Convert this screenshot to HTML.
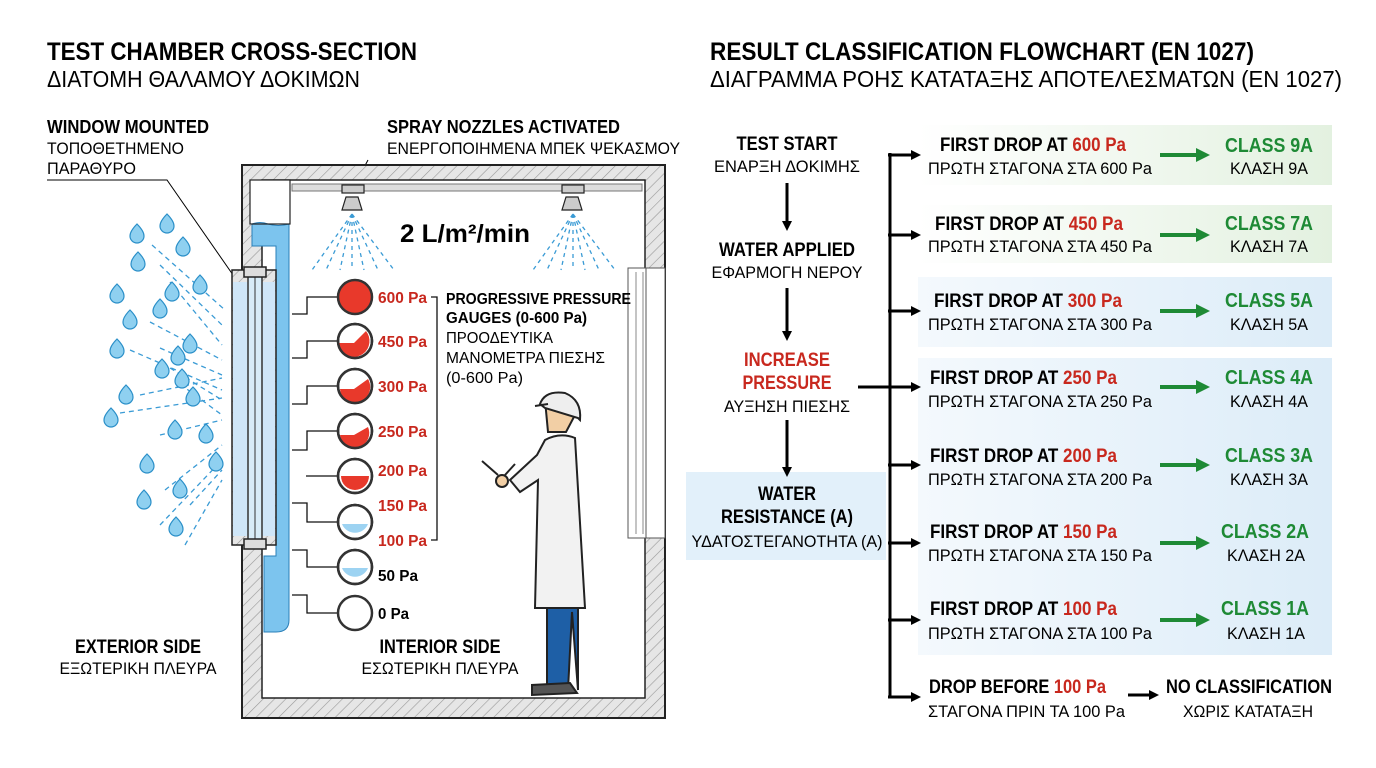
<!DOCTYPE html>
<html><head><meta charset="utf-8"><style>
html,body{margin:0;padding:0;background:#fff;}
svg{display:block;font-family:"Liberation Sans","Noto Sans CJK SC",sans-serif;}
.b{font-weight:bold;}
</style></head><body>
<svg width="1376" height="768" viewBox="0 0 1376 768" xmlns="http://www.w3.org/2000/svg">
<defs>
<pattern id="h" width="8" height="8" patternUnits="userSpaceOnUse" patternTransform="rotate(45)">
<rect width="8" height="8" fill="#e6e6e6"/><line x1="0" y1="0" x2="0" y2="8" stroke="#999" stroke-width="1.2"/></pattern>
<linearGradient id="gg" x1="0" x2="1"><stop offset="0" stop-color="#fff"/><stop offset="1" stop-color="#e3f1e0"/></linearGradient>
<linearGradient id="bg" x1="0" x2="1"><stop offset="0" stop-color="#f4f9fd"/><stop offset="1" stop-color="#dcecf8"/></linearGradient>
<marker id="ak" markerWidth="10" markerHeight="10" refX="7" refY="5" orient="auto" markerUnits="userSpaceOnUse"><path d="M0,0 L10,5 L0,10 Z" fill="#000"/></marker>
<marker id="ag" markerWidth="14" markerHeight="14" refX="10" refY="7" orient="auto" markerUnits="userSpaceOnUse"><path d="M0,0 L14,7 L0,14 Z" fill="#1e8a35"/></marker>
<g id="drop"><path d="M0,-8 C6,-2 7,2 7,4 A7,7 0 0 1 -7,4 C-7,2 -6,-2 0,-8Z" fill="#8fd0f0" stroke="#2a8fc8" stroke-width="1.2"/></g>
</defs>

<!-- Titles -->
<text x="47" y="60" class="b" font-size="25" textLength="370" lengthAdjust="spacingAndGlyphs">TEST CHAMBER CROSS-SECTION</text>
<text x="47" y="87" font-size="23" textLength="313" lengthAdjust="spacingAndGlyphs">ΔΙΑΤΟΜΗ ΘΑΛΑΜΟΥ ΔΟΚΙΜΩΝ</text>
<text x="710" y="60" class="b" font-size="25" textLength="544" lengthAdjust="spacingAndGlyphs">RESULT CLASSIFICATION FLOWCHART (EN 1027)</text>
<text x="710" y="87" font-size="23" textLength="632" lengthAdjust="spacingAndGlyphs">ΔΙΑΓΡΑΜΜΑ ΡΟΗΣ ΚΑΤΑΤΑΞΗΣ ΑΠΟΤΕΛΕΣΜΑΤΩΝ (EN 1027)</text>

<!-- Left labels -->
<text x="47" y="133" class="b" font-size="18" textLength="162" lengthAdjust="spacingAndGlyphs">WINDOW MOUNTED</text>
<text x="47" y="154" font-size="17" textLength="137" lengthAdjust="spacingAndGlyphs">ΤΟΠΟΘΕΤΗΜΕΝΟ</text>
<text x="47" y="174" font-size="17" textLength="89" lengthAdjust="spacingAndGlyphs">ΠΑΡΑΘΥΡΟ</text>
<polyline points="47,180 167,180 240,285" fill="none" stroke="#000" stroke-width="1"/>
<text x="138" y="653" class="b" font-size="19" text-anchor="middle" textLength="126" lengthAdjust="spacingAndGlyphs">EXTERIOR SIDE</text>
<text x="138" y="674" font-size="17" text-anchor="middle" textLength="157" lengthAdjust="spacingAndGlyphs">ΕΞΩΤΕΡΙΚΗ ΠΛΕΥΡΑ</text>
<text x="387" y="133" class="b" font-size="18" textLength="233" lengthAdjust="spacingAndGlyphs">SPRAY NOZZLES ACTIVATED</text>
<text x="387" y="154" font-size="17" textLength="293" lengthAdjust="spacingAndGlyphs">ΕΝΕΡΓΟΠΟΙΗΜΕΝΑ ΜΠΕΚ ΨΕΚΑΣΜΟΥ</text>
<line x1="368" y1="160" x2="352" y2="190" stroke="#000" stroke-width="1"/>

<!-- Chamber -->
<rect x="242" y="165" width="423" height="553" fill="url(#h)" stroke="#222" stroke-width="2"/>
<rect x="262" y="180" width="383" height="518" fill="#fff" stroke="#222" stroke-width="1.5"/>
<rect x="250" y="180" width="40" height="45" fill="#fff"/>
<path d="M252,224 Q260,221 268,224 Q278,227 289,224 L289,620 Q289,632 276,632 L264,632 L264,556 L276,556 L276,246 L252,246 Z" fill="#7cc4ee" stroke="#2a7fb8" stroke-width="1"/>
<rect x="250" y="180" width="40" height="44" fill="none" stroke="#222" stroke-width="1.2"/>
<rect x="232" y="270" width="44" height="275" fill="url(#h)" stroke="#222" stroke-width="1.5"/>
<rect x="233" y="282" width="42" height="254" fill="#cfe6f8"/>
<rect x="248" y="272" width="14" height="270" fill="#d8ecf8" stroke="#333" stroke-width="1.5"/>
<line x1="255" y1="275" x2="255" y2="540" stroke="#333" stroke-width="1"/>
<rect x="244" y="267" width="22" height="10" fill="#ddd" stroke="#222" stroke-width="1.5"/>
<rect x="244" y="539" width="22" height="10" fill="#ddd" stroke="#222" stroke-width="1.5"/>
<rect x="628" y="268" width="20" height="270" fill="#fff" stroke="#555" stroke-width="1"/>
<line x1="636" y1="272" x2="636" y2="534" stroke="#888" stroke-width="1"/>
<line x1="643" y1="272" x2="643" y2="534" stroke="#888" stroke-width="1"/>
<rect x="646" y="268" width="19" height="270" fill="#fff" stroke="#555" stroke-width="1"/>

<!-- spray bar -->
<rect x="292" y="184" width="350" height="7" fill="#ddd" stroke="#777" stroke-width="1"/>
<g fill="#ccc" stroke="#222" stroke-width="1.2">
<rect x="342" y="185" width="22" height="8"/><path d="M346,197 L358,197 L362,210 L342,210 Z"/>
<rect x="562" y="185" width="22" height="8"/><path d="M566,197 L578,197 L582,210 L562,210 Z"/>
</g>
<g stroke="#3a9bd5" stroke-width="1.3" stroke-dasharray="4,4" fill="none">
<path d="M352,214 L312,270 M352,214 L326,270 M352,214 L340,270 M352,214 L352,270 M352,214 L364,270 M352,214 L378,270 M352,214 L394,270"/>
<path d="M573,214 L533,270 M573,214 L547,270 M573,214 L561,270 M573,214 L573,270 M573,214 L585,270 M573,214 L599,270 M573,214 L615,270"/>
</g>
<text x="400" y="242" class="b" font-size="25" textLength="130" lengthAdjust="spacingAndGlyphs">2 L/m²/min</text>

<!-- gauges -->
<g stroke="#111" stroke-width="1.3" fill="none">
<path d="M292,314 L307,314 L307,297 L338,297"/>
<path d="M292,358 L307,358 L307,341 L338,341"/>
<path d="M292,404 L307,404 L307,386 L338,386"/>
<path d="M292,450 L307,450 L307,431 L338,431"/>
<path d="M306,476 L338,476"/>
<path d="M292,503 L307,503 L307,522 L338,522"/>
<path d="M292,550 L307,550 L307,567 L338,567"/>
<path d="M292,595 L307,595 L307,613 L338,613"/>
<path d="M431,297 L437,297 L437,540 L431,540"/>
</g>
<g stroke="#333" stroke-width="2.5">
<circle cx="355" cy="297" r="17" fill="#e8392b"/>
<circle cx="355" cy="341" r="17" fill="#fff"/><path d="M339,343 L354,343 L366,331 A14,14 0 0 1 341,351 Z" fill="#e8392b" stroke="none"/>
<circle cx="355" cy="386" r="17" fill="#fff"/><path d="M340,389 L354,389 L368,379 A14,14 0 0 1 341,395 Z" fill="#e8392b" stroke="none"/>
<circle cx="355" cy="431" r="17" fill="#fff"/><path d="M340,435 L354,435 L368,427 A14,14 0 0 1 341,439 Z" fill="#e8392b" stroke="none"/>
<circle cx="355" cy="476" r="17" fill="#fff"/><path d="M341,476 L369,476 A14,14 0 0 1 341,476 Z" fill="#e8392b" stroke="none"/>
<circle cx="355" cy="522" r="17" fill="#fff"/><path d="M342,524 L368,524 A14,14 0 0 1 342,524 Z" fill="#9dd3f2" stroke="none"/>
<circle cx="355" cy="567" r="17" fill="#fff"/><path d="M342,568 L368,568 A14,14 0 0 1 342,568 Z" fill="#9dd3f2" stroke="none"/>
<circle cx="355" cy="613" r="17" fill="#fff"/>
</g>
<g fill="none" stroke="#333" stroke-width="2.5">
<circle cx="355" cy="341" r="17"/><circle cx="355" cy="386" r="17"/><circle cx="355" cy="431" r="17"/><circle cx="355" cy="476" r="17"/><circle cx="355" cy="522" r="17"/><circle cx="355" cy="567" r="17"/>
</g>
<g class="b" font-size="16" fill="#c8281e">
<text x="378" y="303" textLength="49" lengthAdjust="spacingAndGlyphs">600 Pa</text><text x="378" y="347" textLength="49" lengthAdjust="spacingAndGlyphs">450 Pa</text><text x="378" y="392" textLength="49" lengthAdjust="spacingAndGlyphs">300 Pa</text><text x="378" y="437" textLength="49" lengthAdjust="spacingAndGlyphs">250 Pa</text><text x="378" y="476" textLength="49" lengthAdjust="spacingAndGlyphs">200 Pa</text><text x="378" y="511" textLength="49" lengthAdjust="spacingAndGlyphs">150 Pa</text><text x="378" y="546" textLength="49" lengthAdjust="spacingAndGlyphs">100 Pa</text>
</g>
<text x="378" y="581" class="b" font-size="16" textLength="40" lengthAdjust="spacingAndGlyphs">50 Pa</text>
<text x="378" y="619" class="b" font-size="16" textLength="31" lengthAdjust="spacingAndGlyphs">0 Pa</text>
<text x="446" y="304" class="b" font-size="16" textLength="185" lengthAdjust="spacingAndGlyphs">PROGRESSIVE PRESSURE</text>
<text x="446" y="323" class="b" font-size="16" textLength="141" lengthAdjust="spacingAndGlyphs">GAUGES (0-600 Pa)</text>
<text x="446" y="343" font-size="16" textLength="107" lengthAdjust="spacingAndGlyphs">ΠΡΟΟΔΕΥΤΙΚΑ</text>
<text x="446" y="363" font-size="16" textLength="159" lengthAdjust="spacingAndGlyphs">ΜΑΝΟΜΕΤΡΑ ΠΙΕΣΗΣ</text>
<text x="446" y="383" font-size="16" textLength="77" lengthAdjust="spacingAndGlyphs">(0-600 Pa)</text>

<!-- person -->
<g stroke="#222" stroke-width="2">
<path d="M547,607 L547,690 L568,690 L572,612 L578,690 L578,607 Z" fill="#1e5fa6"/>
<path d="M532,695 L532,685 L570,683 L577,693 Z" fill="#555"/>
<path d="M545,440 Q560,432 575,438 L585,608 L535,608 L538,480 L520,492 L510,480 L537,455 Z" fill="#f2f2f2"/>
<path d="M545,400 L548,432 L566,432 L575,415 L568,400 Z" fill="#f2cfa5"/>
<path d="M540,404 Q545,390 565,393 Q582,400 580,420 L578,418 L545,408 Z" fill="#eee"/>
<path d="M535,406 L548,404" />
<line x1="482" y1="461" x2="498" y2="475"/>
<line x1="505" y1="475" x2="515" y2="464"/>
<circle cx="502" cy="481" r="6" fill="#f2cfa5"/>
</g>
<text x="440" y="653" class="b" font-size="19" text-anchor="middle" textLength="121" lengthAdjust="spacingAndGlyphs">INTERIOR SIDE</text>
<text x="440" y="674" font-size="17" text-anchor="middle" textLength="157" lengthAdjust="spacingAndGlyphs">ΕΣΩΤΕΡΙΚΗ ΠΛΕΥΡΑ</text>

<!-- exterior spray -->
<g stroke="#3a9bd5" stroke-width="1.3" stroke-dasharray="5,4" fill="none">
<line x1="152" y1="245" x2="225" y2="310"/><line x1="160" y1="265" x2="222" y2="325"/>
<line x1="170" y1="282" x2="222" y2="345"/><line x1="150" y1="322" x2="222" y2="360"/>
<line x1="160" y1="348" x2="222" y2="375"/><line x1="130" y1="350" x2="222" y2="390"/>
<line x1="170" y1="368" x2="222" y2="400"/><line x1="180" y1="384" x2="222" y2="415"/>
<line x1="140" y1="395" x2="222" y2="378"/><line x1="120" y1="413" x2="222" y2="398"/>
<line x1="160" y1="435" x2="222" y2="420"/><line x1="165" y1="490" x2="222" y2="445"/>
<line x1="160" y1="525" x2="222" y2="460"/><line x1="185" y1="545" x2="222" y2="480"/>
<line x1="190" y1="505" x2="222" y2="470"/>
</g>
<g>
<use href="#drop" x="167" y="222"/><use href="#drop" x="137" y="232"/><use href="#drop" x="183" y="245"/>
<use href="#drop" x="138" y="260"/><use href="#drop" x="200" y="283"/><use href="#drop" x="172" y="290"/>
<use href="#drop" x="117" y="292"/><use href="#drop" x="160" y="307"/><use href="#drop" x="130" y="318"/>
<use href="#drop" x="190" y="342"/><use href="#drop" x="117" y="347"/><use href="#drop" x="178" y="354"/>
<use href="#drop" x="162" y="367"/><use href="#drop" x="182" y="377"/><use href="#drop" x="126" y="393"/>
<use href="#drop" x="193" y="395"/><use href="#drop" x="111" y="416"/><use href="#drop" x="175" y="428"/>
<use href="#drop" x="206" y="432"/><use href="#drop" x="147" y="462"/><use href="#drop" x="216" y="460"/>
<use href="#drop" x="180" y="487"/><use href="#drop" x="144" y="498"/><use href="#drop" x="176" y="525"/>
</g>

<!-- Flowchart backgrounds -->
<rect x="918" y="125" width="414" height="60" fill="url(#gg)"/>
<rect x="918" y="205" width="414" height="58" fill="url(#gg)"/>
<rect x="918" y="277" width="414" height="70" fill="url(#bg)"/>
<rect x="918" y="358" width="414" height="297" fill="url(#bg)"/>
<rect x="686" y="472" width="200" height="88" fill="#e2f0fa"/>

<g text-anchor="middle">
<text x="787" y="150" class="b" font-size="19" textLength="101" lengthAdjust="spacingAndGlyphs">TEST START</text>
<text x="787" y="172" font-size="17" textLength="146" lengthAdjust="spacingAndGlyphs">ΕΝΑΡΞΗ ΔΟΚΙΜΗΣ</text>
<text x="787" y="256" class="b" font-size="19" textLength="136" lengthAdjust="spacingAndGlyphs">WATER APPLIED</text>
<text x="787" y="278" font-size="17" textLength="151" lengthAdjust="spacingAndGlyphs">ΕΦΑΡΜΟΓΗ ΝΕΡΟΥ</text>
<text x="787" y="366" class="b" font-size="19" fill="#c8281e" textLength="86" lengthAdjust="spacingAndGlyphs">INCREASE</text>
<text x="787" y="389" class="b" font-size="19" fill="#c8281e" textLength="89" lengthAdjust="spacingAndGlyphs">PRESSURE</text>
<text x="787" y="412" font-size="17" textLength="126" lengthAdjust="spacingAndGlyphs">ΑΥΞΗΣΗ ΠΙΕΣΗΣ</text>
<text x="787" y="500" class="b" font-size="19" textLength="58" lengthAdjust="spacingAndGlyphs">WATER</text>
<text x="787" y="523" class="b" font-size="19" textLength="132" lengthAdjust="spacingAndGlyphs">RESISTANCE (A)</text>
<text x="787" y="547" font-size="17" textLength="191" lengthAdjust="spacingAndGlyphs">ΥΔΑΤΟΣΤΕΓΑΝΟΤΗΤΑ (A)</text>
</g>
<g stroke="#000" stroke-width="3" fill="none">
<line x1="787" y1="183" x2="787" y2="228" marker-end="url(#ak)"/>
<line x1="787" y1="288" x2="787" y2="338" marker-end="url(#ak)"/>
<line x1="787" y1="420" x2="787" y2="474" marker-end="url(#ak)"/>
<line x1="858" y1="387" x2="890" y2="387"/>
<line x1="890" y1="153" x2="890" y2="697"/>
<line x1="888" y1="155" x2="918" y2="155" marker-end="url(#ak)"/>
<line x1="888" y1="235" x2="918" y2="235" marker-end="url(#ak)"/>
<line x1="888" y1="311" x2="918" y2="311" marker-end="url(#ak)"/>
<line x1="890" y1="387" x2="918" y2="387" marker-end="url(#ak)"/>
<line x1="888" y1="465" x2="918" y2="465" marker-end="url(#ak)"/>
<line x1="888" y1="543" x2="918" y2="543" marker-end="url(#ak)"/>
<line x1="888" y1="620" x2="918" y2="620" marker-end="url(#ak)"/>
<line x1="888" y1="697" x2="918" y2="697" marker-end="url(#ak)"/>
<line x1="1128" y1="695" x2="1156" y2="695" marker-end="url(#ak)"/>
</g>
<g stroke="#1e8a35" stroke-width="4">
<line x1="1160" y1="155" x2="1206" y2="155" marker-end="url(#ag)"/>
<line x1="1160" y1="235" x2="1206" y2="235" marker-end="url(#ag)"/>
<line x1="1160" y1="311" x2="1206" y2="311" marker-end="url(#ag)"/>
<line x1="1160" y1="387" x2="1206" y2="387" marker-end="url(#ag)"/>
<line x1="1160" y1="465" x2="1206" y2="465" marker-end="url(#ag)"/>
<line x1="1160" y1="543" x2="1206" y2="543" marker-end="url(#ag)"/>
<line x1="1160" y1="620" x2="1206" y2="620" marker-end="url(#ag)"/>
</g>

<g font-size="19" class="b">
<text x="940" y="151" textLength="186" lengthAdjust="spacingAndGlyphs">FIRST DROP AT <tspan fill="#c8281e">600 Pa</tspan></text>
<text x="935" y="230" textLength="188" lengthAdjust="spacingAndGlyphs">FIRST DROP AT <tspan fill="#c8281e">450 Pa</tspan></text>
<text x="934" y="307" textLength="188" lengthAdjust="spacingAndGlyphs">FIRST DROP AT <tspan fill="#c8281e">300 Pa</tspan></text>
<text x="930" y="384" textLength="187" lengthAdjust="spacingAndGlyphs">FIRST DROP AT <tspan fill="#c8281e">250 Pa</tspan></text>
<text x="930" y="462" textLength="187" lengthAdjust="spacingAndGlyphs">FIRST DROP AT <tspan fill="#c8281e">200 Pa</tspan></text>
<text x="930" y="538" textLength="187" lengthAdjust="spacingAndGlyphs">FIRST DROP AT <tspan fill="#c8281e">150 Pa</tspan></text>
<text x="930" y="615" textLength="187" lengthAdjust="spacingAndGlyphs">FIRST DROP AT <tspan fill="#c8281e">100 Pa</tspan></text>
<text x="929" y="693" textLength="177" lengthAdjust="spacingAndGlyphs">DROP BEFORE <tspan fill="#c8281e">100 Pa</tspan></text>
<text x="1166" y="693" textLength="166" lengthAdjust="spacingAndGlyphs">NO CLASSIFICATION</text>
</g>
<g font-size="17">
<text x="928" y="174" textLength="224" lengthAdjust="spacingAndGlyphs">ΠΡΩΤΗ ΣΤΑΓΟΝΑ ΣΤΑ 600 Pa</text>
<text x="928" y="252" textLength="224" lengthAdjust="spacingAndGlyphs">ΠΡΩΤΗ ΣΤΑΓΟΝΑ ΣΤΑ 450 Pa</text>
<text x="928" y="330" textLength="224" lengthAdjust="spacingAndGlyphs">ΠΡΩΤΗ ΣΤΑΓΟΝΑ ΣΤΑ 300 Pa</text>
<text x="928" y="407" textLength="224" lengthAdjust="spacingAndGlyphs">ΠΡΩΤΗ ΣΤΑΓΟΝΑ ΣΤΑ 250 Pa</text>
<text x="928" y="485" textLength="224" lengthAdjust="spacingAndGlyphs">ΠΡΩΤΗ ΣΤΑΓΟΝΑ ΣΤΑ 200 Pa</text>
<text x="928" y="561" textLength="224" lengthAdjust="spacingAndGlyphs">ΠΡΩΤΗ ΣΤΑΓΟΝΑ ΣΤΑ 150 Pa</text>
<text x="928" y="639" textLength="224" lengthAdjust="spacingAndGlyphs">ΠΡΩΤΗ ΣΤΑΓΟΝΑ ΣΤΑ 100 Pa</text>
<text x="928" y="717" textLength="197" lengthAdjust="spacingAndGlyphs">ΣΤΑΓΟΝΑ ΠΡΙΝ ΤΑ 100 Pa</text>
<text x="1183" y="717" textLength="130" lengthAdjust="spacingAndGlyphs">ΧΩΡΙΣ ΚΑΤΑΤΑΞΗ</text>
</g>
<g text-anchor="middle">
<g class="b" font-size="20" fill="#1e8a35">
<text x="1269" y="152" textLength="88" lengthAdjust="spacingAndGlyphs">CLASS 9A</text><text x="1269" y="230" textLength="88" lengthAdjust="spacingAndGlyphs">CLASS 7A</text><text x="1269" y="307" textLength="88" lengthAdjust="spacingAndGlyphs">CLASS 5A</text>
<text x="1269" y="384" textLength="88" lengthAdjust="spacingAndGlyphs">CLASS 4A</text><text x="1269" y="462" textLength="88" lengthAdjust="spacingAndGlyphs">CLASS 3A</text><text x="1265" y="538" textLength="88" lengthAdjust="spacingAndGlyphs">CLASS 2A</text><text x="1265" y="615" textLength="88" lengthAdjust="spacingAndGlyphs">CLASS 1A</text>
</g>
<g font-size="17">
<text x="1269" y="174" textLength="78" lengthAdjust="spacingAndGlyphs">ΚΛΑΣΗ 9A</text><text x="1269" y="252" textLength="78" lengthAdjust="spacingAndGlyphs">ΚΛΑΣΗ 7A</text><text x="1269" y="330" textLength="78" lengthAdjust="spacingAndGlyphs">ΚΛΑΣΗ 5A</text>
<text x="1269" y="407" textLength="78" lengthAdjust="spacingAndGlyphs">ΚΛΑΣΗ 4A</text><text x="1269" y="485" textLength="78" lengthAdjust="spacingAndGlyphs">ΚΛΑΣΗ 3A</text><text x="1266" y="561" textLength="78" lengthAdjust="spacingAndGlyphs">ΚΛΑΣΗ 2A</text><text x="1266" y="639" textLength="78" lengthAdjust="spacingAndGlyphs">ΚΛΑΣΗ 1A</text>
</g>
</g>
</svg>
</body></html>
